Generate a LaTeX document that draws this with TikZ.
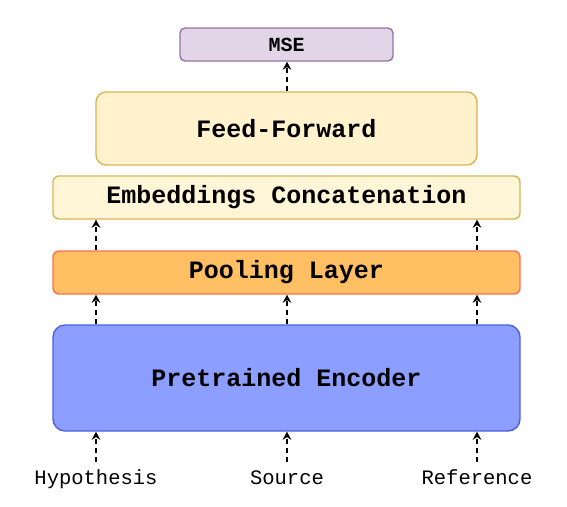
\documentclass[tikz,border=0pt]{standalone}
\usepackage{fontspec}
\setmonofont{Liberation Mono}
\usetikzlibrary{arrows.meta}
\definecolor{mseFill}{HTML}{E1D5E7}
\definecolor{mseLine}{HTML}{9673A6}
\definecolor{ffFill}{HTML}{FFF2CC}
\definecolor{ffLine}{HTML}{D6B656}
\definecolor{embFill}{HTML}{FFF6D8}
\definecolor{poolFill}{HTML}{FFBF62}
\definecolor{poolLine}{HTML}{FF7050}
\definecolor{encFill}{HTML}{8C9EFF}
\definecolor{encLine}{HTML}{4F5FE0}
\tikzset{
  x=1pt, y=1pt,
  boxnode/.style={draw, line width=1.4pt, rounded corners=7pt, inner sep=0pt,
    font=\fontsize{25}{28}\selectfont\ttfamily\bfseries},
  lbl/.style={inner sep=0pt, font=\fontsize{20.5}{24}\selectfont\ttfamily},
  flow/.style={line width=1.6pt, dash pattern=on 5pt off 4pt,
    -{Stealth[length=8pt,width=8.5pt]}},
}
\begin{document}
\begin{tikzpicture}
\useasboundingbox (0,0) rectangle (567,-506);
\node[boxnode, fill=mseFill, draw=mseLine, rounded corners=5pt, minimum width=213, minimum height=33,
  font=\fontsize{20}{24}\selectfont\ttfamily\bfseries] (mse) at (286.5,-44.5) {MSE};
\node[boxnode, fill=ffFill, draw=ffLine, rounded corners=10pt, minimum width=381, minimum height=73] (ff) at (286.5,-128.5) {Feed-Forward};
\node[boxnode, fill=embFill, draw=ffLine, rounded corners=6pt, minimum width=467, minimum height=43] (emb) at (286.5,-197.5) {Embeddings Concatenation};
\node[boxnode, fill=poolFill, draw=poolLine, rounded corners=6pt, minimum width=467, minimum height=43] (pool) at (286.5,-272.5) {Pooling Layer};
\node[boxnode, fill=encFill, draw=encLine, rounded corners=12pt, minimum width=467, minimum height=106] (enc) at (286.5,-378) {Pretrained Encoder};
\node[lbl, anchor=base] (hyp) at (96,-484) {Hypothesis};
\node[lbl, anchor=base] (src) at (287,-484) {Source};
\node[lbl, anchor=base] (ref) at (477,-484) {Reference};
% arrows
\foreach \n in {hyp,src,ref}{
  \draw[flow] ([yshift=22pt]\n.base) -- (\n.base |- enc.south);
  \draw[flow] (\n.base |- enc.north) -- (\n.base |- pool.south);
}
\draw[flow] (hyp.base |- pool.north) -- (hyp.base |- emb.south);
\draw[flow] (ref.base |- pool.north) -- (ref.base |- emb.south);
\draw[flow] (src.base |- ff.north) -- (src.base |- mse.south);
\end{tikzpicture}
\end{document}
